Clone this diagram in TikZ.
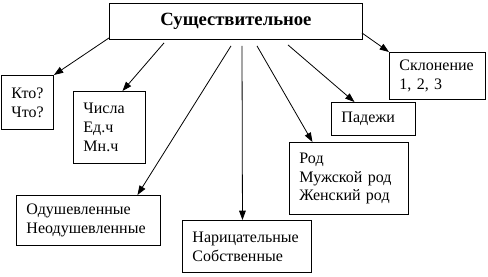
\documentclass[tikz,border=0pt]{standalone}
\usepackage{fontspec}
\setmainfont{Liberation Serif}
\usetikzlibrary{arrows.meta,calc}

\tikzset{
    box/.style={draw, line width=.7pt, anchor=north west, inner xsep=7.5pt, inner ysep=0pt,
        align=left, font=\fontsize{12}{14.2}\selectfont},
    link/.style={line width=.6pt, -{Triangle[length=7pt,width=5pt]}}
}

\begin{document}
\begin{tikzpicture}[x=0.75pt,y=-0.75pt]
    \useasboundingbox (0,0) rectangle (488,276);

    \node[draw, line width=.7pt, anchor=north west, minimum width=189.75pt, minimum height=27pt,
        inner sep=0pt, font=\fontsize{14}{16}\selectfont\bfseries] (main) at (109,3) {Существительное};

    \node[box, text width=24pt, minimum height=40.5pt] (kto) at (1,75) {Кто?\\Что?};
    \node[box, text width=39pt, minimum height=54pt] (chisla) at (73,91) {Числа\\Ед.ч\\Мн.ч};
    \node[box, text width=93pt, minimum height=37.5pt] (odush) at (16,195) {Одушевленные\\Неодушевленные};
    \node[box, text width=81.75pt, minimum height=39pt] (naric) at (182,220) {Нарицательные\\Собственные};
    \node[box, text width=74.25pt, minimum height=54pt] (rod) at (289,142) {Род\\Мужской род\\Женский род};
    \node[box, text width=48pt, minimum height=24.75pt] (padezh) at (331,102) {Падежи};
    \node[box, text width=57pt, minimum height=35.25pt] (sklon) at (389,52) {Склонение\\1, 2, 3};

    % arrows from the title
    \draw[link] ($(main.south west)+(0,-2)$) -- (kto.north east);
    \draw[link] ($(main.south west)+(55,3)$) -- ($(chisla.north)+(13,0)$);
    \draw[link] ($(main.south west)+(122,6)$) -- ($(odush.north)+(49,0)$);
    \draw[link] ($(main.south west)+(133,6)$) -- ($(naric.north)+(-4.5,0)$);
    \draw[link] ($(main.south west)+(148,6)$) -- ($(rod.north)+(-36.5,0)$);
    \draw[link] ($(main.south west)+(179,5)$) -- ($(padezh.north)+(-19,0)$);
    \draw[link] ($(main.south east)+(-1,-7)$) -- (sklon.north west);
\end{tikzpicture}
\end{document}
